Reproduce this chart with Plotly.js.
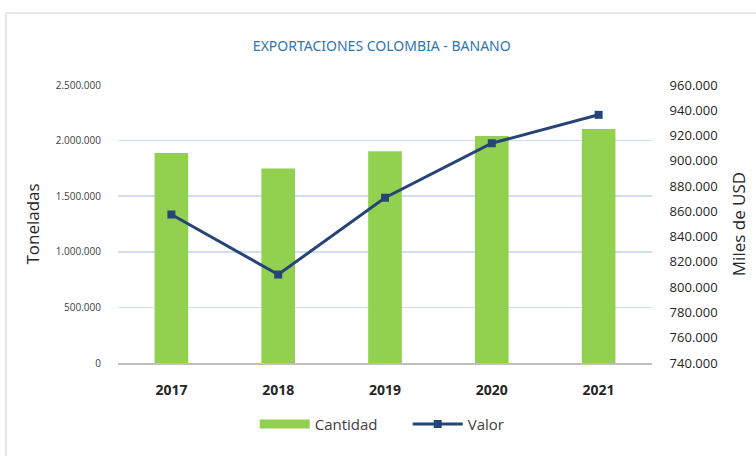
<!DOCTYPE html>
<html><head><meta charset="utf-8">
<script src="https://cdn.plot.ly/plotly-3.0.1.min.js"></script>
<style>
html,body{margin:0;padding:0;background:#fff;}
#chart{width:756px;height:456px;position:relative;}
#frame{position:absolute;left:5px;top:12px;width:760px;height:460px;border-left:2px solid #e4e8ec;border-top:2px solid #e4e8ec;pointer-events:none;}
</style></head>
<body>
<div id="chart"></div>
<div id="frame"></div>
<script>
const years = ['2017','2018','2019','2020','2021'];
const cantidad = [1889000, 1748000, 1904000, 2042000, 2105000];
const valor = [857500, 810000, 870800, 913900, 936400];
const leftTicks = [0, 500000, 1000000, 1500000, 2000000, 2500000];
const rightTicks = [740000,760000,780000,800000,820000,840000,860000,880000,900000,920000,940000,960000];

const green = '#92d050', navy = '#264478';
const traces = [
  {type:'bar', name:'Cantidad', x:years, y:cantidad, marker:{color:green}, yaxis:'y', showlegend:false},
  {type:'scatter', mode:'lines', name:'Cantidad', x:[years[0]], y:[null], yaxis:'y',
   line:{color:green, width:9}, showlegend:true},
  {type:'scatter', mode:'lines+markers', name:'Valor', x:years, y:valor, yaxis:'y2',
   line:{color:navy, width:3}, marker:{symbol:'square', size:8, color:navy}}
];
const layout = {
  width:756, height:456,
  margin:{l:118, r:104, t:85, b:93},
  paper_bgcolor:'#fff', plot_bgcolor:'#fff',
  separators:',.',
  bargap:0.685,
  showlegend:true,
  font:{family:'Open Sans, sans-serif', color:'#404040'},
  title:{text:'EXPORTACIONES COLOMBIA - BANANO', x:0.505, xanchor:'center', y:0.9, yanchor:'middle',
         font:{family:'Noto Sans, sans-serif', size:14, color:'#2e75b6'}},
  xaxis:{type:'category', showline:true, linecolor:'#bfbfbf', linewidth:1.5, showgrid:false,
         ticks:'outside', ticklen:14, tickcolor:'rgba(0,0,0,0)',
         tickfont:{family:'Open Sans, sans-serif', size:14, color:'#262626', weight:'bold'}},
  yaxis:{range:[0,2500000], tickvals:leftTicks, tickformat:',d', showgrid:true, gridcolor:'#d3ddf0', gridwidth:1.5,
         zeroline:false, ticks:'outside', ticklen:14, tickcolor:'rgba(0,0,0,0)',
         tickfont:{family:'Open Sans, sans-serif', size:10, color:'#404040'},
         title:{text:'Toneladas', standoff:11, font:{family:'Open Sans, sans-serif', size:17, color:'#262626'}}},
  yaxis2:{overlaying:'y', side:'right', range:[740000,960000], tickvals:rightTicks, tickformat:',d',
          showgrid:false, zeroline:false, ticks:'outside', ticklen:14, tickcolor:'rgba(0,0,0,0)',
          tickfont:{family:'Open Sans, sans-serif', size:13, color:'#262626'},
          title:{text:'Miles de USD', standoff:16, font:{family:'Open Sans, sans-serif', size:17, color:'#262626'}}},
  legend:{orientation:'h', x:0.256, xanchor:'left', y:-0.22, yanchor:'middle', entrywidth:88,
          font:{family:'Open Sans, sans-serif', size:15, color:'#404040'}, itemwidth:50}
};
Plotly.newPlot('chart', traces, layout, {displayModeBar:false, staticPlot:true});
</script>
</body></html>
